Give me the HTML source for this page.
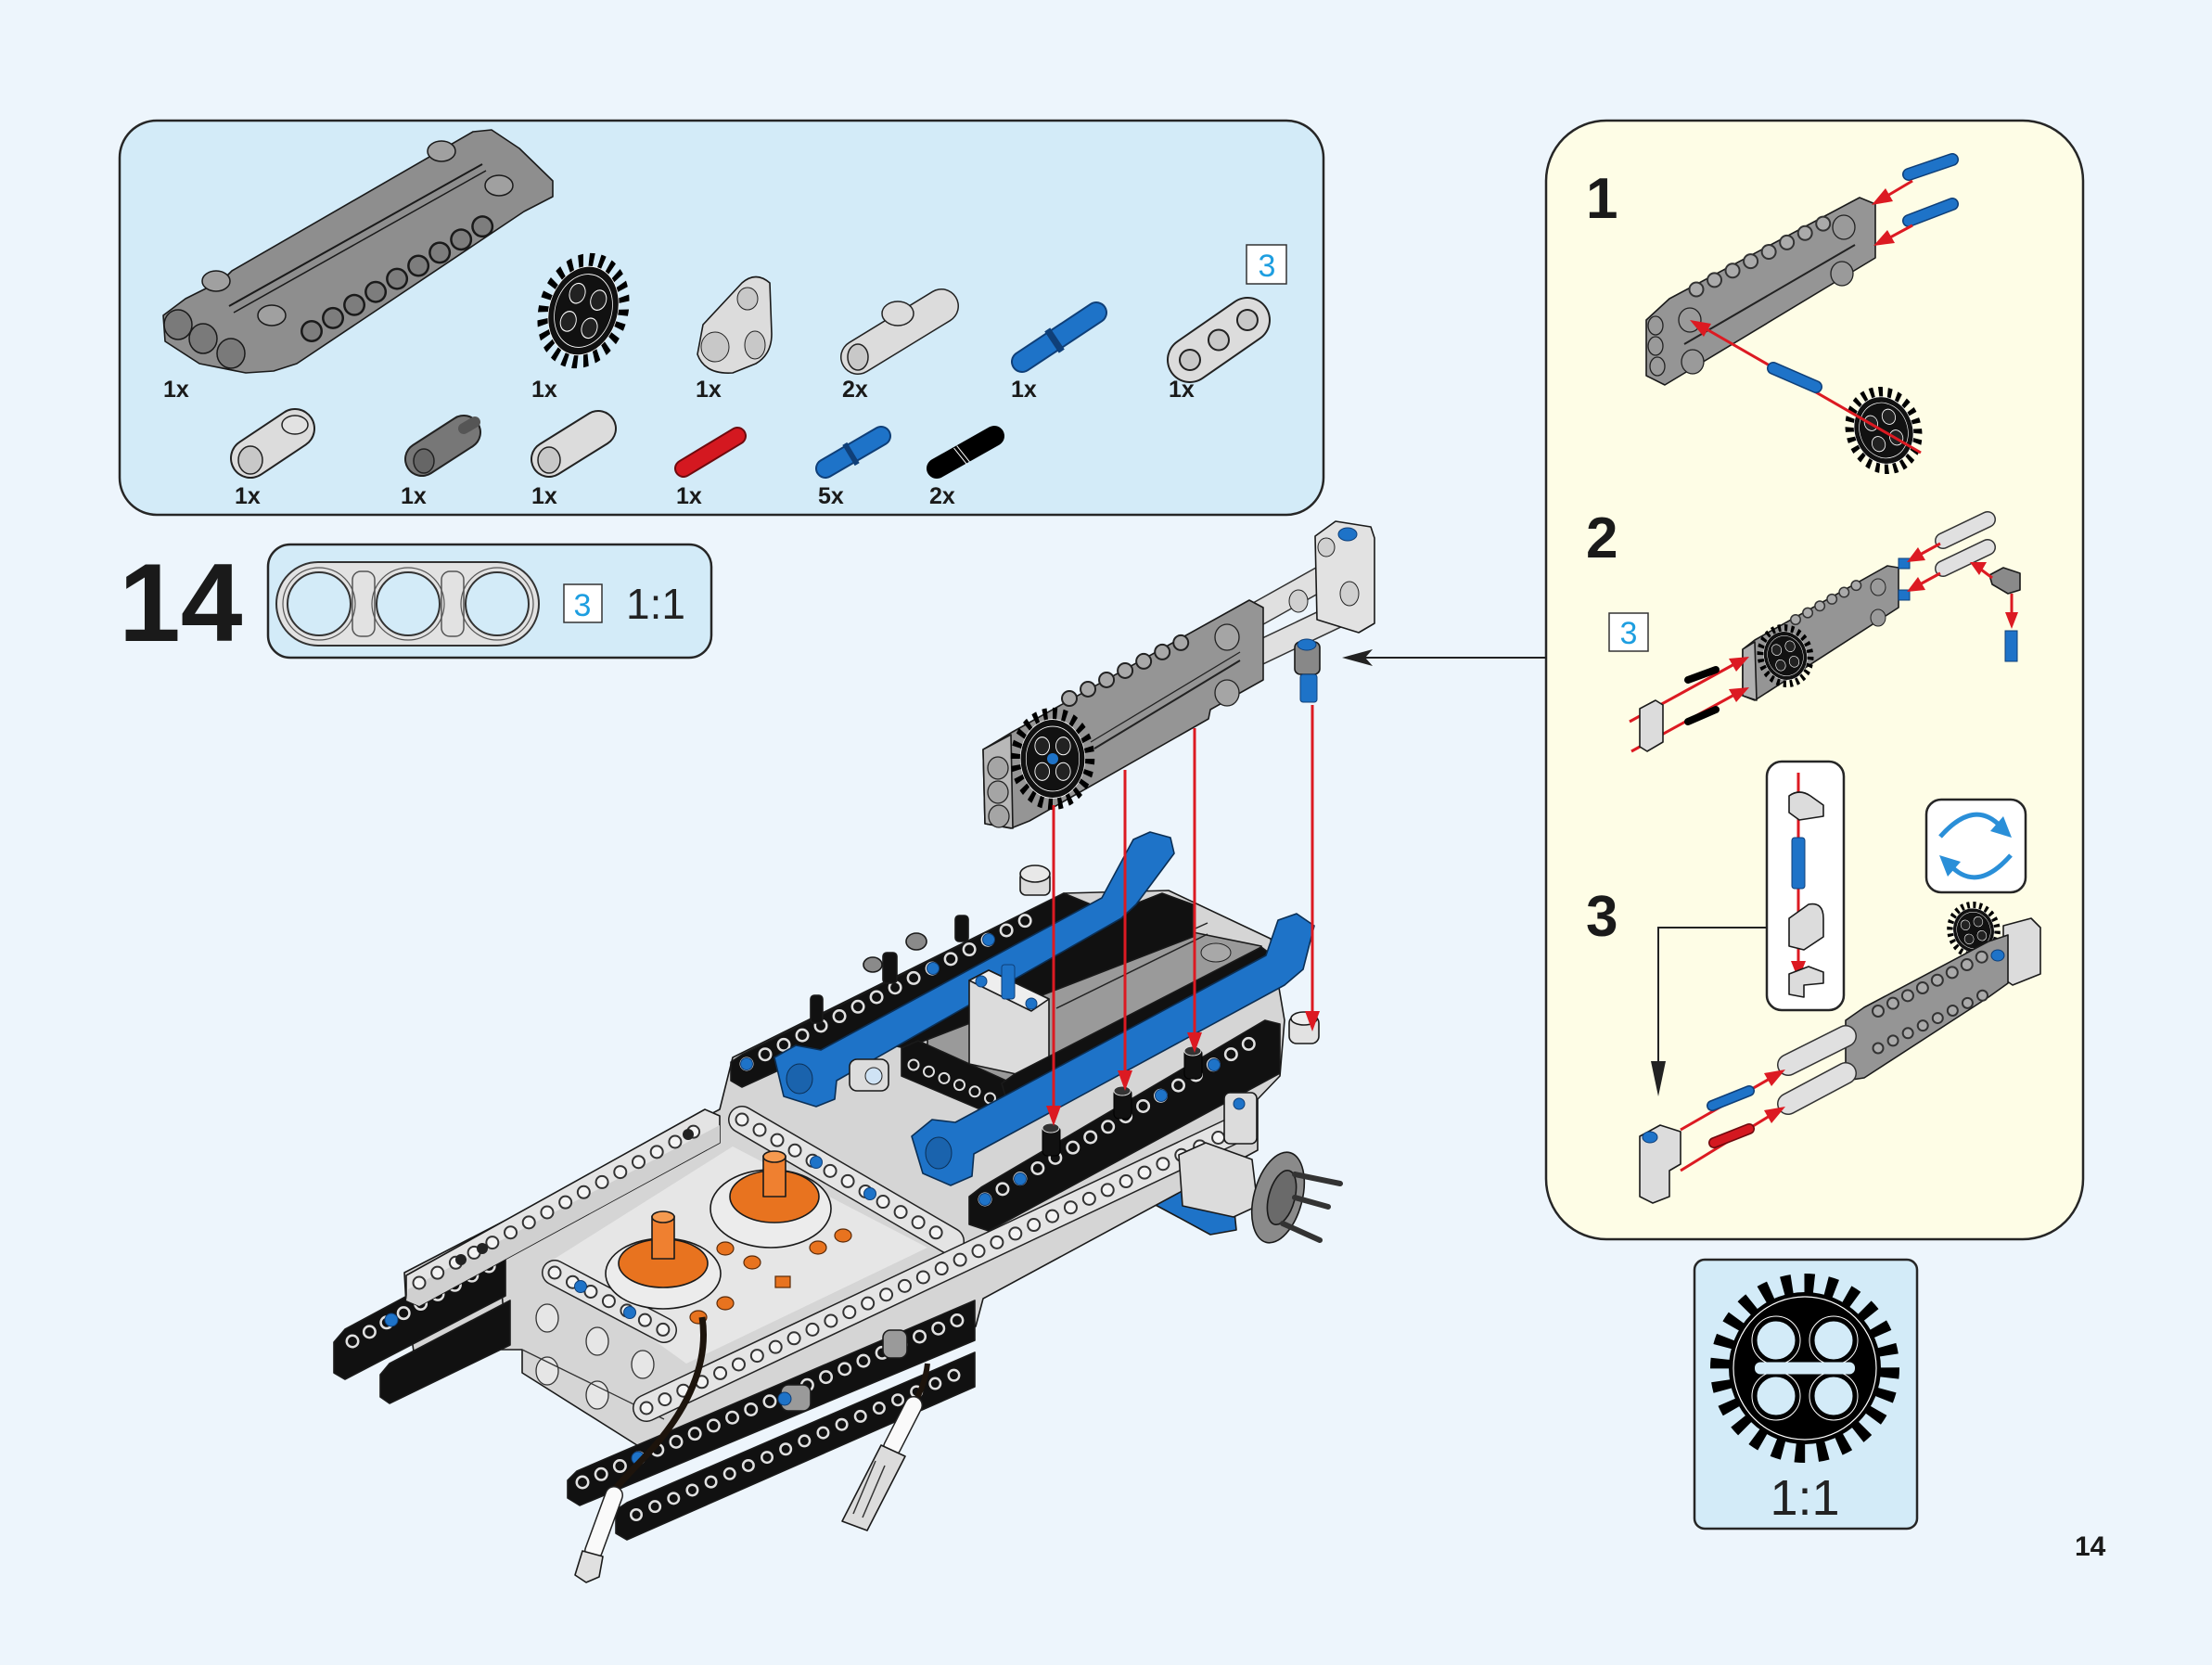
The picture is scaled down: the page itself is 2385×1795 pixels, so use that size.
<!DOCTYPE html>
<html><head><meta charset="utf-8">
<style>
html,body{margin:0;padding:0;background:#edf5fc;}
svg{display:block;}
text{font-family:"Liberation Sans",Arial,sans-serif;}
.o{stroke:#1a1a1a;stroke-width:1.6;stroke-linejoin:round}
.lbl{font-size:25px;font-weight:bold;fill:#1a1a1a}
.num{font-size:62px;font-weight:bold;fill:#1a1a1a}
.b3{font-size:34px;fill:#1d9ee0}
</style></head><body>
<svg width="2385" height="1795" viewBox="0 0 2385 1795" xmlns="http://www.w3.org/2000/svg">
<defs>
<g id="gear">
<circle r="45" fill="none" stroke="#000" stroke-width="14" pathLength="240" stroke-dasharray="4.5 5.5"/>
<circle r="40" fill="#111" stroke="#fff" stroke-width="0.8"/>
<circle r="33" fill="none" stroke="#fff" stroke-width="0.8"/>
<circle cx="-13" cy="-13" r="9" fill="#222" stroke="#fff" stroke-width="1"/>
<circle cx="13" cy="-13" r="9" fill="#222" stroke="#fff" stroke-width="1"/>
<circle cx="-13" cy="13" r="9" fill="#222" stroke="#fff" stroke-width="1"/>
<circle cx="13" cy="13" r="9" fill="#222" stroke="#fff" stroke-width="1"/>
</g>
</defs>
<rect width="2385" height="1795" fill="#edf5fc"/>

<!-- ============ PARTS PANEL ============ -->
<rect x="129" y="130" width="1298" height="425" rx="40" fill="#d3ebf8" stroke="#262626" stroke-width="2.5"/>
<!-- big grey panel -->
<polygon points="176,340 200,322 240,302 250,292 510,142 530,140 560,160 596,195 596,212 565,228 320,392 295,400 265,402 215,392 178,368" fill="#8e8e8e" class="o"/>
<line x1="247" y1="330" x2="520" y2="177" stroke="#1a1a1a" stroke-width="2"/>
<line x1="252" y1="337" x2="524" y2="184" stroke="#1a1a1a" stroke-width="1.5"/>
<g fill="#7a7a7a" stroke="#1a1a1a" stroke-width="1.5">
<ellipse cx="192" cy="350" rx="15" ry="16"/><ellipse cx="219" cy="365" rx="15" ry="16"/><ellipse cx="249" cy="381" rx="15" ry="16"/>
</g>
<g fill="#a0a0a0" stroke="#1a1a1a" stroke-width="1.5">
<ellipse cx="233" cy="303" rx="15" ry="11"/><ellipse cx="293" cy="340" rx="15" ry="11"/><ellipse cx="476" cy="163" rx="15" ry="11"/><ellipse cx="538" cy="200" rx="15" ry="11"/>
</g>
<g stroke-linecap="round" stroke-dasharray="0 27" fill="none">
<line x1="336" y1="357" x2="527" y2="240" stroke="#1a1a1a" stroke-width="24"/>
<line x1="336" y1="357" x2="527" y2="240" stroke="#7d7d7d" stroke-width="19"/>
</g>
<!-- gear -->
<use href="#gear" transform="translate(629,335) rotate(18) scale(0.92,1.22)"/>
<!-- light bent connector -->
<path d="M758,350 L800,305 Q815,292 830,305 L832,360 Q832,382 815,392 L790,402 Q760,404 752,382 Z" fill="#dcdcdc" class="o"/>
<ellipse cx="771" cy="374" rx="15" ry="16" fill="#c8c8c8" stroke="#222"/>
<ellipse cx="814" cy="372" rx="11" ry="15" fill="#c8c8c8" stroke="#222"/>
<ellipse cx="806" cy="322" rx="11" ry="12" fill="#c8c8c8" stroke="#222"/>
<!-- 2x connector -->
<line x1="925" y1="385" x2="1015" y2="330" stroke="#222" stroke-width="38" stroke-linecap="round"/>
<line x1="925" y1="385" x2="1015" y2="330" stroke="#dcdcdc" stroke-width="35" stroke-linecap="round"/>
<ellipse cx="968" cy="338" rx="17" ry="13" fill="#dcdcdc" stroke="#222" stroke-width="1.5"/>
<ellipse cx="925" cy="385" rx="11" ry="14" fill="#c8c8c8" stroke="#222" stroke-width="1.5"/>
<!-- blue pin -->
<line x1="1102" y1="390" x2="1182" y2="337" stroke="#0f3f78" stroke-width="24" stroke-linecap="round"/>
<line x1="1102" y1="390" x2="1182" y2="337" stroke="#1e73c8" stroke-width="20" stroke-linecap="round"/>
<line x1="1134" y1="369" x2="1140" y2="365" stroke="#0f3f78" stroke-width="28"/>
<!-- 3 beam -->
<line x1="1283" y1="388" x2="1345" y2="345" stroke="#222" stroke-width="50" stroke-linecap="round"/>
<line x1="1283" y1="388" x2="1345" y2="345" stroke="#dcdcdc" stroke-width="46" stroke-linecap="round"/>
<g stroke-linecap="round" stroke-dasharray="0 37.7" fill="none">
<line x1="1283" y1="388" x2="1345" y2="345" stroke="#222" stroke-width="24"/>
<line x1="1283" y1="388" x2="1345" y2="345" stroke="#c8c8c8" stroke-width="20"/>
</g>
<rect x="1344" y="264" width="43" height="42" fill="#fff" stroke="#333" stroke-width="1.5"/>
<text x="1366" y="298" text-anchor="middle" class="b3">3</text>
<!-- row 2 -->
<line x1="270" y1="494" x2="318" y2="462" stroke="#222" stroke-width="44" stroke-linecap="round"/>
<line x1="270" y1="494" x2="318" y2="462" stroke="#dcdcdc" stroke-width="40" stroke-linecap="round"/>
<ellipse cx="270" cy="496" rx="13" ry="15" fill="#c8c8c8" stroke="#222" stroke-width="1.5"/>
<ellipse cx="318" cy="458" rx="14" ry="10" fill="#e2e2e2" stroke="#222" stroke-width="1.5"/>
<line x1="455" y1="495" x2="500" y2="466" stroke="#222" stroke-width="38" stroke-linecap="round"/>
<line x1="455" y1="495" x2="500" y2="466" stroke="#777" stroke-width="34" stroke-linecap="round"/>
<ellipse cx="457" cy="497" rx="11" ry="13" fill="#666" stroke="#222" stroke-width="1.5"/>
<line x1="500" y1="462" x2="512" y2="455" stroke="#555" stroke-width="12" stroke-linecap="round"/>
<line x1="592" y1="495" x2="645" y2="462" stroke="#222" stroke-width="40" stroke-linecap="round"/>
<line x1="592" y1="495" x2="645" y2="462" stroke="#dcdcdc" stroke-width="36" stroke-linecap="round"/>
<ellipse cx="592" cy="496" rx="12" ry="14" fill="#c8c8c8" stroke="#222" stroke-width="1.5"/>
<line x1="737" y1="505" x2="795" y2="470" stroke="#6e0a0e" stroke-width="20" stroke-linecap="round"/>
<line x1="737" y1="505" x2="795" y2="470" stroke="#d41820" stroke-width="16" stroke-linecap="round"/>
<line x1="890" y1="505" x2="950" y2="470" stroke="#0f3f78" stroke-width="22" stroke-linecap="round"/>
<line x1="890" y1="505" x2="950" y2="470" stroke="#1e73c8" stroke-width="18" stroke-linecap="round"/>
<line x1="915" y1="491" x2="920" y2="488" stroke="#0f3f78" stroke-width="26"/>
<line x1="1010" y1="505" x2="1072" y2="470" stroke="#000" stroke-width="22" stroke-linecap="round"/>
<line x1="1035" y1="492" x2="1040" y2="488" stroke="#fff" stroke-width="22" stroke-dasharray="1 3"/>
<!-- labels -->
<g class="lbl">
<text x="176" y="428">1x</text><text x="573" y="428">1x</text><text x="750" y="428">1x</text><text x="908" y="428">2x</text><text x="1090" y="428">1x</text><text x="1260" y="428">1x</text>
<text x="253" y="543">1x</text><text x="432" y="543">1x</text><text x="573" y="543">1x</text><text x="729" y="543">1x</text><text x="882" y="543">5x</text><text x="1002" y="543">2x</text>
</g>

<!-- ============ STEP LABEL ============ -->
<text x="128" y="691" font-size="120" font-weight="bold" fill="#1a1a1a">14</text>
<rect x="289" y="587" width="478" height="122" rx="24" fill="#d3ebf8" stroke="#262626" stroke-width="2.5"/>
<rect x="298" y="606" width="283" height="90" rx="45" fill="#e2e2e2" stroke="#333" stroke-width="2"/>
<g fill="none" stroke="#555" stroke-width="1.5">
<rect x="380" y="616" width="24" height="70" rx="9"/><rect x="476" y="616" width="24" height="70" rx="9"/>
</g>
<g fill="#d3ebf8" stroke="#333" stroke-width="2">
<circle cx="344" cy="651" r="34"/><circle cx="440" cy="651" r="34"/><circle cx="536" cy="651" r="34"/>
</g>
<g fill="none" stroke="#555" stroke-width="1.2">
<circle cx="344" cy="651" r="39"/><circle cx="440" cy="651" r="39"/><circle cx="536" cy="651" r="39"/>
</g>
<rect x="608" y="630" width="41" height="41" fill="#fff" stroke="#333" stroke-width="1.5"/>
<text x="628" y="664" text-anchor="middle" class="b3">3</text>
<text x="675" y="667" font-size="46" fill="#222">1:1</text>

<!-- ============ RIGHT PANEL ============ -->
<rect x="1667" y="130" width="579" height="1206" rx="65" fill="#fefde6" stroke="#262626" stroke-width="2.5"/>
<text x="1710" y="235" class="num">1</text>
<text x="1710" y="601" class="num">2</text>
<text x="1710" y="1009" class="num">3</text>

<!-- step 1 -->
<polygon points="1775,345 1800,322 2005,213 2022,220 2022,278 1795,415 1775,405" fill="#959595" class="o"/>
<line x1="1816" y1="371" x2="2000" y2="264" stroke="#222" stroke-width="2"/>
<g stroke-linecap="round" stroke-dasharray="0 22" fill="none">
<line x1="1829" y1="312" x2="1966" y2="241" stroke="#333" stroke-width="17"/>
<line x1="1829" y1="312" x2="1966" y2="241" stroke="#aaa" stroke-width="13"/>
</g>
<g fill="#9a9a9a" stroke="#222" stroke-width="1.3">
<ellipse cx="1785" cy="351" rx="8" ry="10"/><ellipse cx="1785" cy="373" rx="8" ry="10"/><ellipse cx="1787" cy="395" rx="8" ry="10"/>
<ellipse cx="1988" cy="245" rx="12" ry="13"/><ellipse cx="1986" cy="295" rx="12" ry="13"/><ellipse cx="1822" cy="345" rx="12" ry="13"/><ellipse cx="1825" cy="390" rx="12" ry="13"/>
</g>
<use href="#gear" transform="translate(2031,464) rotate(-20) scale(0.78,0.92)"/>
<line x1="2071" y1="488" x2="1835" y2="352" stroke="#dc1a22" stroke-width="3"/>
<polygon points="1822,345 1837,363 1845,349" fill="#dc1a22"/>
<line x1="1912" y1="397" x2="1958" y2="417" stroke="#0f3f78" stroke-width="14" stroke-linecap="round"/>
<line x1="1912" y1="397" x2="1958" y2="417" stroke="#1e73c8" stroke-width="11" stroke-linecap="round"/>
<line x1="2058" y1="188" x2="2105" y2="172" stroke="#0f3f78" stroke-width="14" stroke-linecap="round"/>
<line x1="2058" y1="188" x2="2105" y2="172" stroke="#1e73c8" stroke-width="11" stroke-linecap="round"/>
<line x1="2058" y1="238" x2="2105" y2="220" stroke="#0f3f78" stroke-width="14" stroke-linecap="round"/>
<line x1="2058" y1="238" x2="2105" y2="220" stroke="#1e73c8" stroke-width="11" stroke-linecap="round"/>
<line x1="2062" y1="195" x2="2035" y2="211" stroke="#dc1a22" stroke-width="3"/>
<polygon points="2018,221 2041,217 2033,203" fill="#dc1a22"/>
<line x1="2062" y1="243" x2="2036" y2="257" stroke="#dc1a22" stroke-width="3"/>
<polygon points="2020,265 2043,262 2035,248" fill="#dc1a22"/>

<!-- step 2 -->
<rect x="1735" y="661" width="42" height="41" fill="#fff" stroke="#333" stroke-width="1.5"/>
<text x="1756" y="694" text-anchor="middle" class="b3">3</text>
<polygon points="1879,700 1892,690 2035,610 2047,612 2047,655 1892,755 1879,750" fill="#959595" class="o"/>
<polygon points="1879,700 1892,692 1894,755 1879,750" fill="#b0b0b0" class="o"/>
<g stroke-linecap="round" stroke-dasharray="0 15" fill="none">
<line x1="1936" y1="668" x2="2014" y2="624" stroke="#333" stroke-width="12"/>
<line x1="1936" y1="668" x2="2014" y2="624" stroke="#aaa" stroke-width="9"/>
</g>
<ellipse cx="2025" cy="633" rx="8" ry="9" fill="#9a9a9a" stroke="#222"/>
<ellipse cx="2025" cy="666" rx="8" ry="9" fill="#9a9a9a" stroke="#222"/>
<use href="#gear" transform="translate(1925,707) rotate(-15) scale(0.58,0.66)"/>
<rect x="2047" y="602" width="12" height="11" fill="#1e73c8" stroke="#0f3f78"/>
<rect x="2047" y="636" width="12" height="11" fill="#1e73c8" stroke="#0f3f78"/>
<g stroke-linecap="round">
<line x1="2095" y1="583" x2="2143" y2="560" stroke="#333" stroke-width="18"/>
<line x1="2095" y1="583" x2="2143" y2="560" stroke="#e0e0e0" stroke-width="15"/>
<line x1="2095" y1="613" x2="2143" y2="590" stroke="#333" stroke-width="18"/>
<line x1="2095" y1="613" x2="2143" y2="590" stroke="#e0e0e0" stroke-width="15"/>
</g>
<polygon points="2145,620 2160,612 2178,618 2178,636 2165,640 2148,630" fill="#8a8a8a" class="o"/>
<rect x="2162" y="680" width="13" height="33" fill="#1e73c8" stroke="#0f3f78"/>
<line x1="2092" y1="586" x2="2070" y2="598" stroke="#dc1a22" stroke-width="3"/>
<polygon points="2056,606 2076,604 2068,590" fill="#dc1a22"/>
<line x1="2092" y1="618" x2="2070" y2="630" stroke="#dc1a22" stroke-width="3"/>
<polygon points="2056,638 2076,636 2068,622" fill="#dc1a22"/>
<line x1="2148" y1="623" x2="2136" y2="614" stroke="#dc1a22" stroke-width="3"/>
<polygon points="2124,606 2142,606 2134,620" fill="#dc1a22"/>
<line x1="2169" y1="640" x2="2169" y2="662" stroke="#dc1a22" stroke-width="3"/>
<polygon points="2162,660 2176,660 2169,678" fill="#dc1a22"/>
<line x1="1757" y1="778" x2="1870" y2="716" stroke="#dc1a22" stroke-width="3"/>
<polygon points="1886,708 1864,710 1872,724" fill="#dc1a22"/>
<line x1="1759" y1="810" x2="1870" y2="749" stroke="#dc1a22" stroke-width="3"/>
<polygon points="1886,741 1864,743 1872,757" fill="#dc1a22"/>
<line x1="1820" y1="733" x2="1850" y2="722" stroke="#000" stroke-width="8" stroke-linecap="round"/>
<line x1="1820" y1="778" x2="1850" y2="765" stroke="#000" stroke-width="8" stroke-linecap="round"/>
<polygon points="1768,764 1785,755 1793,760 1793,800 1776,810 1768,805" fill="#dcdcdc" class="o"/>

<!-- step 3 -->
<rect x="1905" y="821" width="83" height="268" rx="16" fill="#fff" stroke="#262626" stroke-width="2.5"/>
<line x1="1939" y1="833" x2="1939" y2="1040" stroke="#dc1a22" stroke-width="3"/>
<polygon points="1931,1036 1947,1036 1939,1056" fill="#dc1a22"/>
<path d="M1929,858 Q1940,850 1952,858 L1966,868 L1966,880 L1940,884 L1929,876 Z" fill="#dcdcdc" class="o"/>
<rect x="1932" y="903" width="14" height="55" rx="3" fill="#1e73c8" stroke="#0f3f78"/>
<path d="M1929,990 L1950,975 Q1966,972 1966,990 L1966,1010 L1945,1024 L1929,1020 Z" fill="#dcdcdc" class="o"/>
<path d="M1929,1050 L1950,1042 L1966,1048 L1966,1060 L1945,1062 L1945,1075 L1929,1072 Z" fill="#dcdcdc" class="o"/>
<rect x="2077" y="862" width="107" height="100" rx="16" fill="#fff" stroke="#262626" stroke-width="2.5"/>
<path d="M2092,902 Q2129,860 2158,892" fill="none" stroke="#2a8fd8" stroke-width="5"/>
<polygon points="2169,903 2146,896 2160,880" fill="#2a8fd8"/>
<path d="M2168,922 Q2131,964 2102,932" fill="none" stroke="#2a8fd8" stroke-width="5"/>
<polygon points="2091,922 2114,929 2100,945" fill="#2a8fd8"/>
<polyline points="1905,1000 1788,1000 1788,1150" fill="none" stroke="#222" stroke-width="2"/>
<polygon points="1780,1144 1796,1144 1788,1182" fill="#222"/>
<use href="#gear" transform="translate(2128,1003) rotate(-15) scale(0.55,0.6)"/>
<polygon points="2160,998 2190,990 2200,1000 2200,1050 2170,1062 2160,1055" fill="#dcdcdc" class="o"/>
<polygon points="1990,1100 2010,1086 2144,1015 2165,1008 2165,1060 2144,1075 2010,1162 1990,1165" fill="#959595" class="o"/>
<g stroke-linecap="round" stroke-dasharray="0 18" fill="none">
<line x1="2025" y1="1090" x2="2140" y2="1030" stroke="#333" stroke-width="14"/>
<line x1="2025" y1="1090" x2="2140" y2="1030" stroke="#aaa" stroke-width="10"/>
<line x1="2025" y1="1130" x2="2140" y2="1072" stroke="#333" stroke-width="13"/>
<line x1="2025" y1="1130" x2="2140" y2="1072" stroke="#aaa" stroke-width="9"/>
</g>
<ellipse cx="2154" cy="1030" rx="7" ry="6" fill="#1e73c8" stroke="#0f3f78"/>
<g stroke-linecap="round">
<line x1="1928" y1="1148" x2="1990" y2="1117" stroke="#333" stroke-width="24"/>
<line x1="1928" y1="1148" x2="1990" y2="1117" stroke="#e0e0e0" stroke-width="21"/>
<line x1="1928" y1="1190" x2="1990" y2="1157" stroke="#333" stroke-width="24"/>
<line x1="1928" y1="1190" x2="1990" y2="1157" stroke="#e0e0e0" stroke-width="21"/>
</g>
<polygon points="1768,1225 1790,1213 1812,1220 1812,1255 1800,1262 1800,1290 1782,1297 1768,1290" fill="#dcdcdc" class="o"/>
<ellipse cx="1779" cy="1226" rx="8" ry="6" fill="#1e73c8" stroke="#0f3f78"/>
<line x1="1812" y1="1218" x2="1908" y2="1163" stroke="#dc1a22" stroke-width="3"/>
<polygon points="1925,1153 1910,1171 1902,1157" fill="#dc1a22"/>
<line x1="1812" y1="1262" x2="1908" y2="1203" stroke="#dc1a22" stroke-width="3"/>
<polygon points="1925,1193 1910,1211 1902,1197" fill="#dc1a22"/>
<line x1="1846" y1="1192" x2="1886" y2="1176" stroke="#0f3f78" stroke-width="12" stroke-linecap="round"/>
<line x1="1846" y1="1192" x2="1886" y2="1176" stroke="#1e73c8" stroke-width="9" stroke-linecap="round"/>
<line x1="1848" y1="1232" x2="1886" y2="1217" stroke="#6e0a0e" stroke-width="12" stroke-linecap="round"/>
<line x1="1848" y1="1232" x2="1886" y2="1217" stroke="#d41820" stroke-width="9" stroke-linecap="round"/>

<!-- gear box -->
<rect x="1827" y="1358" width="240" height="290" rx="11" fill="#d3ebf8" stroke="#262626" stroke-width="2.5"/>
<g transform="translate(1946,1475)">
<circle r="91" fill="none" stroke="#000" stroke-width="22" pathLength="240" stroke-dasharray="4.4 5.6"/>
<circle r="82" fill="#000"/>
<circle r="77" fill="none" stroke="#fff" stroke-width="1.2"/>
<g fill="#d3ebf8" stroke="#000" stroke-width="1">
<circle cx="-31" cy="-30" r="21"/><circle cx="31" cy="-30" r="21"/><circle cx="-31" cy="30" r="21"/><circle cx="31" cy="30" r="21"/>
</g>
<g fill="none" stroke="#fff" stroke-width="1">
<circle cx="-31" cy="-30" r="26"/><circle cx="31" cy="-30" r="26"/><circle cx="-31" cy="30" r="26"/><circle cx="31" cy="30" r="26"/>
</g>
<rect x="-54" y="-6.5" width="108" height="13" rx="6" fill="#d3ebf8"/>
</g>
<text x="1946" y="1633" text-anchor="middle" font-size="54" fill="#222">1:1</text>
<text x="2237" y="1677" font-size="30" font-weight="bold" fill="#1a1a1a">14</text>

<!-- ============ MAIN ASSEMBLY ============ -->
<path d="M1238,1272 L1262,1266 L1300,1292 L1330,1296 L1333,1326 L1305,1331 L1270,1312 L1242,1297 Z" fill="#1e73c8" class="o"/>
<polygon points="436,1372 776,1196 790,1140 1147,963 1260,960 1370,1012 1385,1100 1380,1160 1356,1185 1356,1240 1060,1400 1052,1430 690,1560 563,1480 563,1455 527,1455 527,1400 480,1415 438,1408" fill="#d5d5d5" class="o"/>
<polygon points="440,1415 540,1380 545,1440 450,1485" fill="#d5d5d5" class="o"/>
<polygon points="590,1362 790,1236 1000,1345 740,1470" fill="#e6e6e6"/>
<!-- motor side holes -->
<g fill="#e6e6e6" stroke="#333" stroke-width="1.3">
<ellipse cx="590" cy="1421" rx="12" ry="15"/><ellipse cx="644" cy="1446" rx="12" ry="15"/><ellipse cx="693" cy="1471" rx="12" ry="15"/>
<ellipse cx="590" cy="1478" rx="12" ry="15"/><ellipse cx="644" cy="1504" rx="12" ry="15"/>
</g>
<line x1="563" y1="1455" x2="716" y2="1530" stroke="#333" stroke-width="1.3"/>
<!-- light beams on lower chassis -->
<g stroke-linecap="round">
<line x1="800" y1="1207" x2="1025" y2="1338" stroke="#222" stroke-width="30"/>
<line x1="800" y1="1207" x2="1025" y2="1338" stroke="#e4e4e4" stroke-width="27"/>
<line x1="697" y1="1518" x2="1340" y2="1214" stroke="#222" stroke-width="30"/>
<line x1="697" y1="1518" x2="1340" y2="1214" stroke="#e4e4e4" stroke-width="27"/>
<line x1="598" y1="1372" x2="716" y2="1434" stroke="#222" stroke-width="28"/>
<line x1="598" y1="1372" x2="716" y2="1434" stroke="#e4e4e4" stroke-width="25"/>
</g>
<g stroke-linecap="round" stroke-dasharray="0 22" fill="none">
<line x1="800" y1="1207" x2="1025" y2="1338" stroke="#333" stroke-width="15"/>
<line x1="800" y1="1207" x2="1025" y2="1338" stroke="#f4f4f4" stroke-width="11"/>
<line x1="697" y1="1518" x2="1340" y2="1214" stroke="#333" stroke-width="15"/>
<line x1="697" y1="1518" x2="1340" y2="1214" stroke="#f4f4f4" stroke-width="11"/>
<line x1="598" y1="1372" x2="716" y2="1434" stroke="#333" stroke-width="15"/>
<line x1="598" y1="1372" x2="716" y2="1434" stroke="#f4f4f4" stroke-width="11"/>
</g>
<g fill="#1e73c8" stroke="#0f3f78">
<circle cx="880" cy="1253" r="6.5"/><circle cx="938" cy="1287" r="6.5"/><circle cx="626" cy="1387" r="6.5"/><circle cx="679" cy="1415" r="6.5"/>
</g>
<!-- domes -->
<ellipse cx="715" cy="1373" rx="62" ry="38" fill="#ececec" class="o"/>
<ellipse cx="715" cy="1362" rx="48" ry="26" fill="#e8731f" class="o"/>
<rect x="703" y="1311" width="24" height="46" fill="#ef8030" class="o"/>
<ellipse cx="715" cy="1312" rx="12" ry="6" fill="#f59a50" class="o"/>
<ellipse cx="831" cy="1303" rx="65" ry="42" fill="#ececec" class="o"/>
<ellipse cx="835" cy="1290" rx="48" ry="28" fill="#e8731f" class="o"/>
<rect x="823" y="1246" width="24" height="44" fill="#ef8030" class="o"/>
<ellipse cx="835" cy="1247" rx="12" ry="6" fill="#f59a50" class="o"/>
<g fill="#e8731f" stroke="#5a2a08" stroke-width="1.2">
<ellipse cx="782" cy="1346" rx="9" ry="7"/><ellipse cx="811" cy="1361" rx="9" ry="7"/><ellipse cx="882" cy="1345" rx="9" ry="7"/><ellipse cx="909" cy="1332" rx="9" ry="7"/><ellipse cx="782" cy="1405" rx="9" ry="7"/><ellipse cx="753" cy="1420" rx="9" ry="7"/>
<rect x="836" y="1376" width="16" height="12"/>
</g>
<!-- left black beams -->
<polygon points="410,1482 420,1470 550,1402 550,1450 420,1513 410,1506" fill="#111" class="o"/>
<polygon points="360,1447 372,1433 545,1340 545,1397 372,1487 360,1480" fill="#111" class="o"/>
<g stroke-linecap="round" stroke-dasharray="0 21" fill="none">
<line x1="380" y1="1446" x2="540" y2="1358" stroke="#e0e0e0" stroke-width="15"/>
<line x1="380" y1="1446" x2="540" y2="1358" stroke="#111" stroke-width="10"/>
</g>
<circle cx="422" cy="1423" r="7" fill="#1e73c8" stroke="#0f3f78"/>
<!-- top-left light beam -->
<polygon points="438,1375 760,1196 776,1203 776,1232 452,1408 438,1402" fill="#e4e4e4" class="o"/>
<polygon points="440,1390 776,1213 776,1232 452,1408 438,1402" fill="#d0d0d0" stroke="none"/>
<g stroke-linecap="round" stroke-dasharray="0 22.5" fill="none">
<line x1="452" y1="1383" x2="766" y2="1210" stroke="#333" stroke-width="15"/>
<line x1="452" y1="1383" x2="766" y2="1210" stroke="#f4f4f4" stroke-width="11"/>
</g>
<g fill="#222"><circle cx="497" cy="1358" r="6"/><circle cx="520" cy="1346" r="6"/><circle cx="742" cy="1223" r="6"/></g>
<!-- front black beams -->
<polygon points="664,1628 676,1620 1051,1458 1051,1495 676,1660 664,1653" fill="#111" class="o"/>
<polygon points="612,1596 622,1586 1051,1402 1051,1445 625,1623 612,1615" fill="#111" class="o"/>
<g stroke-linecap="round" stroke-dasharray="0 22" fill="none">
<line x1="628" y1="1598" x2="1040" y2="1420" stroke="#e0e0e0" stroke-width="15"/>
<line x1="628" y1="1598" x2="1040" y2="1420" stroke="#111" stroke-width="10"/>
<line x1="686" y1="1633" x2="1030" y2="1482" stroke="#e0e0e0" stroke-width="14"/>
<line x1="686" y1="1633" x2="1030" y2="1482" stroke="#111" stroke-width="9"/>
</g>
<circle cx="688" cy="1572" r="7" fill="#1e73c8" stroke="#0f3f78"/>
<!-- rollers -->
<rect x="842" y="1493" width="32" height="28" rx="8" fill="#9a9a9a" class="o"/>
<circle cx="846" cy="1508" r="7" fill="#1e73c8" stroke="#0f3f78"/>
<rect x="952" y="1434" width="26" height="30" rx="8" fill="#9a9a9a" class="o"/>

<!-- rear section -->
<polygon points="1000,1120 1286,1005 1360,1020 1360,1035 1094,1170 1000,1170" fill="#9a9a9a" class="o"/>
<line x1="1139" y1="1087" x2="1302" y2="1007" stroke="#222" stroke-width="1.5"/>
<line x1="1188" y1="1047" x2="1302" y2="995" stroke="#222" stroke-width="1.5"/>
<ellipse cx="1262" cy="997" rx="16" ry="10" fill="#a8a8a8" stroke="#222"/>
<ellipse cx="1311" cy="1027" rx="16" ry="10" fill="#a8a8a8" stroke="#222"/>
<polygon points="930,1090 1253,963 1286,975 1286,1010 976,1130 930,1120" fill="#111" class="o"/>
<polygon points="788,1145 800,1137 1147,963 1176,975 1176,1000 800,1172 788,1165" fill="#111" class="o"/>
<g stroke-linecap="round" stroke-dasharray="0 22.5" fill="none">
<line x1="805" y1="1147" x2="1122" y2="984" stroke="#e0e0e0" stroke-width="15"/>
<line x1="805" y1="1147" x2="1122" y2="984" stroke="#111" stroke-width="10"/>
</g>
<g fill="#1e73c8" stroke="#0f3f78"><circle cx="805" cy="1147" r="6.5"/><circle cx="1006" cy="1044" r="6.5"/><circle cx="1066" cy="1013" r="6.5"/></g>
<!-- pins on A -->
<rect x="874" y="1073" width="13" height="30" rx="4" fill="#111" class="o"/>
<rect x="952" y="1027" width="15" height="33" rx="4" fill="#111" class="o"/>
<rect x="1030" y="987" width="14" height="28" rx="4" fill="#111" class="o"/>
<ellipse cx="941" cy="1040" rx="10" ry="8" fill="#8a8a8a" class="o"/>
<ellipse cx="988" cy="1015" rx="11" ry="9" fill="#8a8a8a" class="o"/>
<rect x="1100" y="940" width="32" height="25" rx="6" fill="#dcdcdc" class="o"/>
<ellipse cx="1116" cy="942" rx="16" ry="9" fill="#e8e8e8" class="o"/>
<!-- blue A -->
<polygon points="835,1140 858,1127 885,1132 1188,968 1222,905 1240,897 1262,903 1266,920 1225,975 1209,990 902,1165 900,1185 880,1193 845,1182" fill="#1e73c8" stroke="#0b2f55" stroke-width="1.6" stroke-linejoin="round"/>
<ellipse cx="862" cy="1163" rx="14" ry="16" fill="#1a63ad" stroke="#0b2f55"/>
<!-- light connector -->
<rect x="916" y="1142" width="42" height="34" rx="8" fill="#dcdcdc" class="o"/>
<circle cx="942" cy="1160" r="9" fill="#cfe3f5" stroke="#222"/>
<!-- light block -->
<polygon points="1045,1057 1066,1046 1131,1077 1131,1153 1119,1163 1045,1147" fill="#dcdcdc" class="o"/>
<polygon points="1045,1057 1066,1046 1131,1077 1112,1090" fill="#eeeeee" class="o"/>
<rect x="1080" y="1040" width="14" height="37" rx="3" fill="#1e73c8" stroke="#0f3f78"/>
<circle cx="1058" cy="1058" r="6" fill="#1e73c8" stroke="#0f3f78"/>
<circle cx="1112" cy="1082" r="6" fill="#1e73c8" stroke="#0f3f78"/>
<!-- cross black -->
<polygon points="972,1130 990,1122 1107,1175 1107,1205 1090,1210 972,1160" fill="#111" class="o"/>
<g stroke-linecap="round" stroke-dasharray="0 18" fill="none">
<line x1="985" y1="1148" x2="1095" y2="1196" stroke="#e0e0e0" stroke-width="13"/>
<line x1="985" y1="1148" x2="1095" y2="1196" stroke="#111" stroke-width="9"/>
</g>
<!-- beam D -->
<polygon points="1080,1168 1094,1158 1360,1021 1372,1030 1372,1050 1107,1188 1085,1185" fill="#111" class="o"/>
<!-- blue C -->
<polygon points="983,1225 1005,1207 1030,1210 1365,1030 1378,992 1398,985 1417,998 1405,1045 1385,1062 1050,1244 1048,1268 1025,1278 995,1265" fill="#1e73c8" stroke="#0b2f55" stroke-width="1.6" stroke-linejoin="round"/>
<ellipse cx="1012" cy="1243" rx="14" ry="17" fill="#1a63ad" stroke="#0b2f55"/>
<!-- beam C -->
<polygon points="1045,1290 1058,1280 1364,1100 1380,1104 1380,1157 1066,1327 1045,1320" fill="#111" class="o"/>
<g stroke-linecap="round" stroke-dasharray="0 22" fill="none">
<line x1="1062" y1="1293" x2="1364" y2="1115" stroke="#e0e0e0" stroke-width="15"/>
<line x1="1062" y1="1293" x2="1364" y2="1115" stroke="#111" stroke-width="10"/>
</g>
<g fill="#1e73c8" stroke="#0f3f78"><circle cx="1062" cy="1293" r="6.5"/><circle cx="1100" cy="1271" r="6.5"/><circle cx="1252" cy="1181" r="6.5"/><circle cx="1309" cy="1148" r="6.5"/></g>
<g fill="#111" stroke="#000">
<rect x="1124" y="1214" width="19" height="32" rx="5"/><rect x="1201" y="1174" width="19" height="32" rx="5"/><rect x="1277" y="1131" width="19" height="32" rx="5"/>
</g>
<g fill="#333" stroke="#ddd" stroke-width="1">
<ellipse cx="1133" cy="1216" rx="9" ry="5"/><ellipse cx="1210" cy="1176" rx="9" ry="5"/><ellipse cx="1286" cy="1133" rx="9" ry="5"/>
</g>
<!-- right end pieces -->
<rect x="1320" y="1178" width="35" height="55" rx="6" fill="#dcdcdc" class="o"/>
<circle cx="1336" cy="1190" r="6" fill="#1e73c8" stroke="#0f3f78"/>
<rect x="1390" y="1095" width="32" height="30" rx="8" fill="#e2e2e2" class="o"/>
<ellipse cx="1406" cy="1098" rx="14" ry="7" fill="#eee" class="o"/>
<!-- wheel hub -->
<polygon points="1271,1245 1300,1232 1350,1250 1356,1300 1330,1312 1275,1300" fill="#dcdcdc" class="o"/>
<ellipse cx="1378" cy="1291" rx="26" ry="50" transform="rotate(15 1378 1291)" fill="#8a8a8a" class="o"/>
<ellipse cx="1382" cy="1291" rx="14" ry="30" transform="rotate(15 1382 1291)" fill="#6a6a6a" class="o"/>
<g stroke="#333" stroke-width="6" stroke-linecap="round">
<line x1="1396" y1="1266" x2="1445" y2="1276"/><line x1="1396" y1="1291" x2="1432" y2="1301"/><line x1="1383" y1="1319" x2="1423" y2="1337"/>
</g>
<!-- cables -->
<path d="M757,1420 C765,1470 740,1520 705,1560 C685,1582 668,1598 660,1610" fill="none" stroke="#1d140c" stroke-width="7"/>
<line x1="662" y1="1612" x2="640" y2="1672" stroke="#222" stroke-width="20" stroke-linecap="round"/>
<line x1="662" y1="1612" x2="640" y2="1672" stroke="#fafafa" stroke-width="17" stroke-linecap="round"/>
<polygon points="628,1672 650,1678 646,1700 632,1706 620,1698" fill="#e0e0e0" class="o"/>
<path d="M1000,1470 C998,1490 990,1505 985,1515" fill="none" stroke="#1d140c" stroke-width="6"/>
<line x1="985" y1="1515" x2="962" y2="1560" stroke="#222" stroke-width="20" stroke-linecap="round"/>
<line x1="985" y1="1515" x2="962" y2="1560" stroke="#fafafa" stroke-width="17" stroke-linecap="round"/>
<polygon points="950,1558 976,1570 935,1650 908,1640" fill="#dcdcdc" class="o"/>
<line x1="944" y1="1575" x2="920" y2="1632" stroke="#333" stroke-width="1.5"/>
<line x1="954" y1="1580" x2="930" y2="1636" stroke="#333" stroke-width="1.5"/>

<!-- floating assembly -->
<g stroke-linecap="round">
<line x1="1345" y1="668" x2="1445" y2="612" stroke="#333" stroke-width="27"/>
<line x1="1345" y1="668" x2="1445" y2="612" stroke="#e0e0e0" stroke-width="24"/>
<line x1="1355" y1="705" x2="1460" y2="655" stroke="#333" stroke-width="27"/>
<line x1="1355" y1="705" x2="1460" y2="655" stroke="#e0e0e0" stroke-width="24"/>
</g>
<polygon points="1418,578 1440,562 1478,568 1482,580 1482,672 1465,682 1420,668" fill="#e2e2e2" class="o"/>
<ellipse cx="1453" cy="576" rx="10" ry="7" fill="#1e73c8" stroke="#0f3f78"/>
<ellipse cx="1430" cy="590" rx="9" ry="10" fill="#d0d0d0" stroke="#222"/>
<ellipse cx="1455" cy="640" rx="10" ry="13" fill="#d0d0d0" stroke="#222"/>
<ellipse cx="1400" cy="648" rx="10" ry="12" fill="#d0d0d0" stroke="#222"/>
<polygon points="1060,808 1090,790 1347,647 1362,655 1362,733 1305,765 1303,775 1110,885 1090,893 1062,888" fill="#959595" class="o"/>
<polygon points="1060,808 1090,792 1092,893 1062,888" fill="#b8b8b8" class="o"/>
<g fill="#a5a5a5" stroke="#222" stroke-width="1.3">
<ellipse cx="1076" cy="828" rx="11" ry="12"/><ellipse cx="1076" cy="854" rx="11" ry="12"/><ellipse cx="1077" cy="880" rx="11" ry="12"/>
<ellipse cx="1323" cy="687" rx="13" ry="14"/><ellipse cx="1323" cy="747" rx="13" ry="14"/>
</g>
<line x1="1180" y1="807" x2="1337" y2="712" stroke="#222" stroke-width="2"/>
<line x1="1176" y1="800" x2="1337" y2="703" stroke="#222" stroke-width="1.3"/>
<g stroke-linecap="round" stroke-dasharray="0 22.4" fill="none">
<line x1="1153" y1="753" x2="1293" y2="683" stroke="#222" stroke-width="18"/>
<line x1="1153" y1="753" x2="1293" y2="683" stroke="#a8a8a8" stroke-width="14"/>
</g>
<use href="#gear" transform="translate(1135,818) scale(0.87,1.06)"/>
<circle cx="1135" cy="818" r="6" fill="#1e73c8"/>
<rect x="1396" y="692" width="27" height="35" rx="6" fill="#888" class="o"/>
<ellipse cx="1409" cy="695" rx="10" ry="6" fill="#1e73c8" stroke="#0f3f78"/>
<rect x="1402" y="727" width="18" height="30" rx="3" fill="#1e73c8" stroke="#0f3f78"/>
<!-- red arrows -->
<g stroke="#dc1a22" stroke-width="3">
<line x1="1136" y1="868" x2="1136" y2="1196"/><line x1="1213" y1="830" x2="1213" y2="1158"/><line x1="1288" y1="785" x2="1288" y2="1117"/><line x1="1415" y1="760" x2="1415" y2="1094"/>
</g>
<g fill="#dc1a22">
<polygon points="1128,1192 1144,1192 1136,1214"/><polygon points="1205,1154 1221,1154 1213,1176"/><polygon points="1280,1113 1296,1113 1288,1135"/><polygon points="1407,1090 1423,1090 1415,1112"/>
</g>
<!-- black arrow -->
<line x1="1668" y1="709" x2="1472" y2="709" stroke="#222" stroke-width="2"/>
<polygon points="1447,709 1480,700 1472,709 1480,718" fill="#222"/>
</svg>
</body></html>
